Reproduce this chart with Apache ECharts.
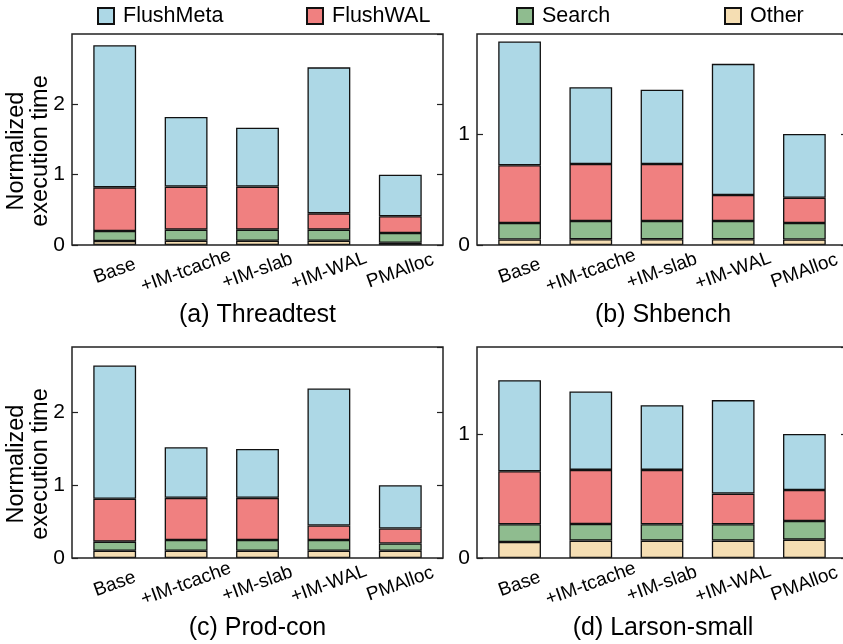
<!DOCTYPE html>
<html>
<head>
<meta charset="utf-8">
<script src="https://cdn.jsdelivr.net/npm/echarts@6/dist/echarts.min.js"></script>
<style>
  html, body { margin: 0; padding: 0; background: #fff; }
  #chart { width: 843px; height: 644px; }
</style>
</head>
<body>
<div id="chart"></div>
<script>
// Allocator variants compared in every panel
const categories = ['Base', '+IM-tcache', '+IM-slab', '+IM-WAL', 'PMAlloc'];
const seriesNames = ['FlushMeta', 'FlushWAL', 'Search', 'Other'];
const panelTitles = ['(a) Threadtest', '(b) Shbench', '(c) Prod-con', '(d) Larson-small'];

// Breakdown of normalized execution time per workload
const threadtestFlushMeta = [2.02, 0.99, 0.838, 2.076, 0.592];
const threadtestFlushWAL  = [0.621, 0.612, 0.612, 0.232, 0.238];
const threadtestSearch    = [0.142, 0.158, 0.158, 0.158, 0.137];
const threadtestOther     = [0.057, 0.06, 0.06, 0.06, 0.033];

const shbenchFlushMeta = [1.114, 0.69, 0.669, 1.181, 0.574];
const shbenchFlushWAL  = [0.52, 0.514, 0.514, 0.234, 0.228];
const shbenchSearch    = [0.148, 0.164, 0.164, 0.164, 0.148];
const shbenchOther     = [0.05, 0.052, 0.052, 0.052, 0.05];

const prodconFlushMeta = [1.83, 0.695, 0.672, 1.882, 0.595];
const prodconFlushWAL  = [0.59, 0.58, 0.58, 0.2, 0.205];
const prodconSearch    = [0.125, 0.147, 0.147, 0.147, 0.1];
const prodconOther     = [0.1, 0.1, 0.1, 0.1, 0.1];

const larsonFlushMeta = [0.734, 0.631, 0.521, 0.753, 0.452];
const larsonFlushWAL  = [0.4275, 0.436, 0.4385, 0.2475, 0.25];
const larsonSearch    = [0.1425, 0.134, 0.1315, 0.1315, 0.15];
const larsonOther     = [0.129, 0.14, 0.14, 0.14, 0.148];

// Y-axis upper limits per panel
const yMaxes = [3, 1.9, 2.9, 1.7];

const panelData = [
  { FlushMeta: threadtestFlushMeta, FlushWAL: threadtestFlushWAL, Search: threadtestSearch, Other: threadtestOther },
  { FlushMeta: shbenchFlushMeta, FlushWAL: shbenchFlushWAL, Search: shbenchSearch, Other: shbenchOther },
  { FlushMeta: prodconFlushMeta, FlushWAL: prodconFlushWAL, Search: prodconSearch, Other: prodconOther },
  { FlushMeta: larsonFlushMeta, FlushWAL: larsonFlushWAL, Search: larsonSearch, Other: larsonOther }
];

const colors = { FlushMeta: '#add8e6', FlushWAL: '#f08080', Search: '#8fbc8f', Other: '#f5deb3' };
const FONT = '"Liberation Sans", Arial, Helvetica, sans-serif';

// Panel frames (outer box) and the inset plotting area for the categories
const frames = [
  { x: 72, y: 34, w: 371, h: 211 },
  { x: 477, y: 34, w: 372, h: 211 },
  { x: 72, y: 347, w: 371, h: 211 },
  { x: 477, y: 347, w: 372, h: 211 }
];
const inset = 7;

const grids = [], xAxes = [], yAxes = [], series = [], titles = [], graphics = [];

frames.forEach((f, i) => {
  grids.push({ left: f.x + inset, top: f.y, width: f.w - 2 * inset, height: f.h });

  xAxes.push({
    type: 'category', gridIndex: i, data: categories,
    axisLine: { show: false }, axisTick: { show: false },
    axisLabel: {
      interval: 0, rotate: 20, align: 'center', verticalAlign: 'middle',
      margin: 26, fontSize: 19, color: '#000', fontFamily: FONT
    }
  });

  const yCommon = {
    type: 'value', gridIndex: i, min: 0, max: yMaxes[i], interval: 1,
    offset: inset, splitLine: { show: false },
    axisLine: { show: false },
    axisTick: { show: true, inside: true, length: 6, lineStyle: { color: '#222', width: 1.2 } }
  };
  yAxes.push(Object.assign({}, yCommon, {
    position: 'left',
    axisLabel: { margin: 7, fontSize: 21, color: '#000', fontFamily: FONT, showMaxLabel: false }
  }));
  yAxes.push(Object.assign({}, yCommon, {
    position: 'right',
    axisLabel: { show: false }
  }));

  // Bottom-to-top stacking order
  ['Other', 'Search', 'FlushWAL', 'FlushMeta'].forEach(name => {
    series.push({
      type: 'bar', name: name, stack: 'panel' + i,
      xAxisIndex: i, yAxisIndex: 2 * i,
      data: panelData[i][name], barWidth: '60%',
      itemStyle: { color: colors[name], borderColor: '#111', borderWidth: 1.3 }
    });
  });

  titles.push({
    text: panelTitles[i], left: f.x + f.w / 2, top: f.y + 269, textAlign: 'center',
    padding: 0,
    textStyle: { fontSize: 25, fontWeight: 'normal', color: '#000', fontFamily: FONT }
  });

  graphics.push({
    type: 'rect', z: 100, silent: true,
    shape: { x: f.x, y: f.y, width: f.w, height: f.h },
    style: { fill: 'none', stroke: '#222', lineWidth: 1.5 }
  });
});

// Y-axis names on the left column
[151, 464].forEach(cy => {
  graphics.push({
    type: 'text', z: 100, x: 29, y: cy, rotation: Math.PI / 2,
    style: {
      text: 'Normalized\nexecution time', fontSize: 23.5, fontFamily: FONT,
      fill: '#000', align: 'center', verticalAlign: 'middle', lineHeight: 24
    }
  });
});

// One legend per entry so the items sit at fixed spacing
const legendLefts = [97, 306, 516, 724];
const legends = seriesNames.map((name, k) => ({
  data: [name], left: legendLefts[k], top: 5, padding: 0,
  itemWidth: 16, itemHeight: 16, icon: 'rect', selectedMode: false,
  textStyle: { fontSize: 21.5, color: '#000', fontFamily: FONT, padding: [0, 0, 0, 4] }
}));

const chart = echarts.init(document.getElementById('chart'), null, { renderer: 'canvas' });
chart.setOption({
  animation: false,
  backgroundColor: '#fff',
  title: titles,
  legend: legends,
  grid: grids,
  xAxis: xAxes,
  yAxis: yAxes,
  series: series,
  graphic: graphics
});
</script>
</body>
</html>
